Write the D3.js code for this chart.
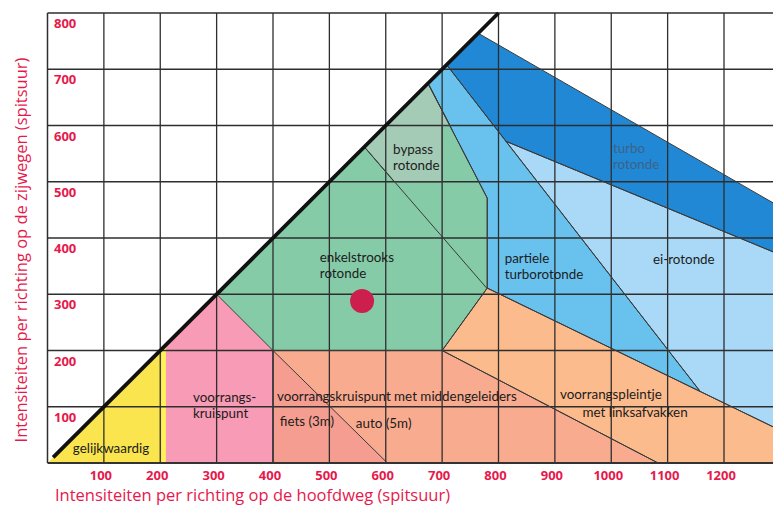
<!DOCTYPE html>
<html>
<head>
<meta charset="utf-8">
<script src="https://cdn.jsdelivr.net/npm/d3@7"></script>
<style>
  html, body { margin: 0; padding: 0; background: #fff; }
  svg { display: block; }
</style>
</head>
<body>
<svg id="chart" width="773" height="505"></svg>
<script>
"use strict";

// axis ticks (hoofdweg = x, zijwegen = y), vehicles per hour
const xTicks = [100, 200, 300, 400, 500, 600, 700, 800, 900, 1000, 1100, 1200]
const yTicks = [100, 200, 300, 400, 500, 600, 700, 800]
const gridX = [100, 200, 300, 400, 500, 600, 700, 800, 900, 1000, 1100, 1200]
const gridY = [100, 200, 300, 400, 500, 600, 700]

// region outlines in [hoofdweg, zijweg]
const gelijkwaardig = [[0, 0], [210, 210], [210, 0]]
const voorrangsKruispunt = [[210, 0], [210, 210], [300, 300], [400, 200], [400, 0]]
const middengeleiders = [[400, 200], [700, 200], [1083, 0], [400, 0]]
const fiets = [[400, 200], [603, 0], [400, 0]]
const pleintje = [[700, 200], [780, 311], [1300, 58], [1300, 0], [1083, 0]]
const enkelstrooks = [[300, 300], [675, 675], [780, 471], [780, 311], [700, 200], [400, 200]]
const bypass = [[562, 562], [675, 675], [714, 600], [700, 600], [700, 500], [615, 500]]
const partiele = [[675, 675], [708, 708], [1158, 127], [780, 311], [780, 471]]
const turbo = [[708, 708], [764, 764], [1300, 455], [1300, 370], [813, 572]]
const eiRotonde = [[813, 572], [1300, 370], [1300, 58], [1158, 127]]

// extra divider inside enkelstrooks rotonde
const bypassLine = [[562, 562], [779, 311]]
const diagonal = [[10, 10], [800, 800]]

const marker = [558, 288]

const regionLabels = [
  { lines: ["gelijkwaardig"], x: 45, y: 25 },
  { lines: ["voorrangs-", "kruispunt"], x: 258, y: 117 },
  { lines: ["voorrangskruispunt  met middengeleiders"], x: 407, y: 119 },
  { lines: ["fiets (3m)"], x: 412, y: 73 },
  { lines: ["auto (5m)"], x: 547, y: 71 },
  { lines: ["voorrangspleintje"], x: 909, y: 121 },
  { lines: ["met linksafvakken"], x: 949, y: 90 },
  { lines: ["bypass", "rotonde"], x: 613, y: 558 },
  { lines: ["enkelstrooks", "rotonde"], x: 483, y: 366 },
  { lines: ["partiele", "turborotonde"], x: 811, y: 364 },
  { lines: ["turbo", "rotonde"], x: 1003, y: 560, faded: true },
  { lines: ["ei-rotonde"], x: 1074, y: 362 }
]

const colors = {
  gelijkwaardig: "#fbe54e",
  voorrangsKruispunt: "#f89bb6",
  middengeleiders: "#f9ab8f",
  fiets: "#f59d91",
  pleintje: "#fcbb8d",
  enkelstrooks: "#85cba8",
  bypass: "#a4cbb6",
  partiele: "#69c2ee",
  turbo: "#2188d5",
  eiRotonde: "#a9d9f7"
}
const red = "#e6194c"

const svg = d3.select("#chart")
const x = d3.scaleLinear().domain([0, 1200]).range([47.5, 724])
const y = d3.scaleLinear().domain([0, 800]).range([463, 13])
const line = d3.line().x(d => x(d[0])).y(d => y(d[1]))

svg.append("clipPath").attr("id", "plot")
  .append("rect")
  .attr("x", x(0)).attr("y", y(800))
  .attr("width", 773 - x(0)).attr("height", y(0) - y(800))

const plot = svg.append("g").attr("clip-path", "url(#plot)")

const regions = [
  [gelijkwaardig, colors.gelijkwaardig],
  [voorrangsKruispunt, colors.voorrangsKruispunt],
  [middengeleiders, colors.middengeleiders],
  [fiets, colors.fiets],
  [pleintje, colors.pleintje],
  [enkelstrooks, colors.enkelstrooks],
  [bypass, colors.bypass],
  [partiele, colors.partiele],
  [turbo, colors.turbo],
  [eiRotonde, colors.eiRotonde]
]

plot.selectAll("path.region").data(regions).enter()
  .append("path")
  .attr("class", "region")
  .attr("d", d => line(d[0]) + "Z")
  .attr("fill", d => d[1])

// the yellow field has a brighter rim on its right side
plot.append("path")
  .attr("d", line([[206, 206], [206, 0]]))
  .attr("stroke", "#fff15a").attr("stroke-width", 4).attr("fill", "none")

// grid
plot.selectAll("line.gx").data(gridX).enter().append("line")
  .attr("x1", d => x(d)).attr("x2", d => x(d))
  .attr("y1", y(0)).attr("y2", y(800))
  .attr("stroke", "#2e2e2e").attr("stroke-width", 1.3)
plot.selectAll("line.gy").data(gridY).enter().append("line")
  .attr("x1", x(0)).attr("x2", 773)
  .attr("y1", d => y(d)).attr("y2", d => y(d))
  .attr("stroke", "#2e2e2e").attr("stroke-width", 1.3)

// region borders
plot.selectAll("path.edge").data(regions.slice(2).map(d => d[0]).concat([bypassLine])).enter()
  .append("path")
  .attr("d", (d, i) => line(d) + (d.length > 2 ? "Z" : ""))
  .attr("fill", "none")
  .attr("stroke", "#3a3a3a")
  .attr("stroke-width", 1)

// frame
svg.append("line").attr("x1", x(0)).attr("x2", x(0)).attr("y1", y(0)).attr("y2", y(800))
  .attr("stroke", "#2e2e2e").attr("stroke-width", 1.5)
svg.append("line").attr("x1", x(0)).attr("x2", 773).attr("y1", y(800)).attr("y2", y(800))
  .attr("stroke", "#2e2e2e").attr("stroke-width", 1.3)
svg.append("line").attr("x1", x(0)).attr("x2", 773).attr("y1", y(0)).attr("y2", y(0))
  .attr("stroke", "#333").attr("stroke-width", 2)

// diagonal y = x
svg.append("path").attr("d", line(diagonal))
  .attr("stroke", "#111").attr("stroke-width", 3.8).attr("fill", "none")
  .attr("stroke-linecap", "butt")

// labels
const lbl = svg.append("g")
  .attr("font-family", "Lato, 'Open Sans', sans-serif")
  .attr("font-size", 13.4)
  .style("white-space", "pre")
regionLabels.forEach(l => {
  const t = lbl.append("text")
    .attr("x", x(l.x)).attr("y", y(l.y) + 4.5)
    .attr("fill", l.faded ? "#3d6386" : "#1c1c1c")
  l.lines.forEach((s, i) => {
    t.append("tspan").attr("x", x(l.x)).attr("dy", i ? 16.5 : 0).text(s)
  })
})

// marker
svg.append("circle")
  .attr("cx", x(marker[0])).attr("cy", y(marker[1]))
  .attr("r", 12).attr("fill", "#cd1f4e")

// tick labels
svg.append("g").selectAll("text").data(yTicks).enter().append("text")
  .attr("x", 54).attr("y", d => y(d) + 15)
  .attr("font-family", "'Open Sans', sans-serif").attr("font-weight", "bold")
  .attr("font-size", 13).attr("fill", red)
  .text(d => d)
svg.append("g").selectAll("text").data(xTicks).enter().append("text")
  .attr("x", d => x(d) - 3).attr("y", 480)
  .attr("text-anchor", "middle")
  .attr("font-family", "'Open Sans', sans-serif").attr("font-weight", "bold")
  .attr("font-size", 13).attr("fill", red)
  .text(d => d)

// axis titles
svg.append("text")
  .attr("x", 55).attr("y", 501)
  .attr("font-family", "'Open Sans', sans-serif").attr("font-size", 16.5)
  .attr("fill", red)
  .text("Intensiteiten per richting op de hoofdweg (spitsuur)")
svg.append("text")
  .attr("transform", "translate(27, 250) rotate(-90)")
  .attr("text-anchor", "middle")
  .attr("font-family", "'Open Sans', sans-serif").attr("font-size", 16.5)
  .attr("fill", red)
  .text("Intensiteiten per richting op de zijwegen (spitsuur)")
</script>
</body>
</html>
